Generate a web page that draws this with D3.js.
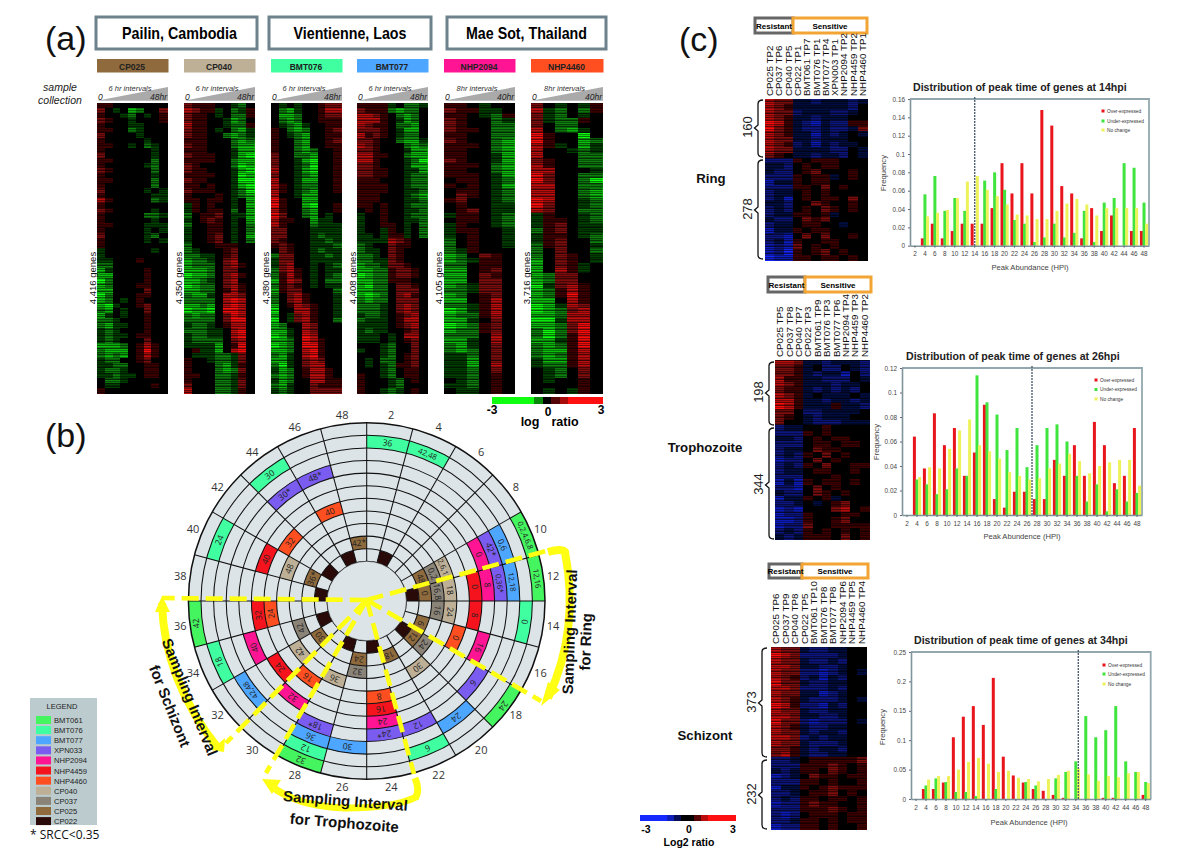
<!DOCTYPE html>
<html><head><meta charset="utf-8">
<script src="https://cdn.jsdelivr.net/npm/d3@7/dist/d3.min.js"></script>
<style>html,body{margin:0;padding:0;background:#fff}svg{display:block}text{font-family:"Liberation Sans",Arial,sans-serif}</style>
</head><body><svg id="c" width="1200" height="849"></svg>
<script>
// ---------- data: panel (a) expression, digits = red level, letters = green level ----------
const sitesA = ["Pailin, Cambodia","Vientienne, Laos","Mae Sot, Thailand"];
const isolatesA = ["CP025","CP040","BMT076","BMT077","NHP2094","NHP4460"];
const isolateColorsA = ["#8f6a3c","#bdb097","#3fffa0","#4da6ff","#ff1493","#ff4e20"];
const intervalsA = ["6 hr intervals","6 hr intervals","6 hr intervals","6 hr intervals","8hr intervals","8hr intervals"];
const endLabelsA = ["48hr","48hr","48hr","48hr","40hr","40hr"];
const geneCountsA = ["4,416 genes","4,350 genes","4,380 genes","4,408 genes","4,105 genes","3,716 genes"];
const heatCP025 = ["110000000","20a0cb002","100ab0a01","2100a0001","1000aa000","1100ba000","20000a000","100000a00","1100a0ba0","1000000a0","2000000a0","1100000b0","100000ab0","2100000b0","1000000a0","1100000b0","1000000b0","200000a0a","1000000aa","3100000ba","100000000","2100000a0","100000bba","1000000a0","110000aaa","100000a0a","200000ab0","100000a0a","100000000","a000000a0","a00000000","aa0001000","bb0000000","ca0000100","cc0000100","db0000100","cb0001100","cc0000200","db0001100","cb0a01000","cda001200","bc0a00200","ca0a00100","bba000100","bcaa00100","aba000100","abaa01100","aba000200","cccb01310","bccc01410","bcbc01310","abb001200","aabb00110","abba00110","aabaa0110","0bba00000","0aa000010","100000000"];
const heatCP040 = ["211100ab0","3211a0ba1","2110a0bb1","21100acb0","31100abb1","2110a0bca","21100bcba","111000bcb","211000bcc","111000acc","211100acd","111100bcc","210000bdc","211000acd","111100adc","211000add","110100acd","211100abd","100010abc","110110a0c","a10100a0c","a10110b0c","b01120aac","a01210a0c","b00110a0b","a00110a0b","a00120a0c","a00120a0b","b00011100","ba0001200","bbaa01200","cbba02300","cbbb02310","cccb02200","dccb02310","ccba02300","dcbb02310","ccbb01310","bcca03320","bbbb03430","ccbc03430","dccd04430","bcbb02430","bbbb02440","abba01330","bbbaa0340","abbaa0340","abbbb0230","aaaac0140","01aac0340","0aaabba20","100abba20","1000bca10","1000bcb20","1100bba10","1000bba20","2000bba20","3000bba10"];
const heatBMT076 = ["0a0a00122","0bca00133","0ccb00122","0bcb00111","0abca0011","10bcb0012","10abc0011","100bc0012","100bc0011","100bcb001","200bbc001","200acd001","200abd001","300acd001","200abc001","300acc001","310abb001","310abc001","300acc000","4100cc000","4100cd001","3100bc001","4200bc0a0","31100caa0","31000baaa","22000aaaa","22000abaa","21000aaba","12100aaab","02100abaa","b2200aaba","a2200aaaa","a2300a0ab","b2310a0aa","b1310a0ab","c1320a0bb","b1210a0aa","c1220000b","b0231000a","b0231000a","c0132100a","d0033100a","c0a23100a","d0a23100b","cb0032000","cca032000","dca043000","ccb043100","dcb044100","ccb034100","bca034100","cca023200","bda023300","acb013310","bcb013310","acb003311","bca002111","aba002222"];
const heatBMT077 = ["1111a0bba","2111bcbb0","33210bcb0","33310acb0","32110bbc0","22210acc0","31210abb0","22100bcca","321000bcb","221000acc","331100bcc","331000abd","221000acc","221100aac","221100abb","111000abb","111100abb","111100aab","111000abc","111000aab","110100abb","010100aab","a00100abb","a00100aab","a00110a0b","a00a10a0b","aa0a11a0b","aaaa32100","ba0021100","baa021000","bba021000","bbaa21000","cbba22100","ccbb12210","dcbb12210","ccbb11100","cdbb02210","ccbb02220","cdcb02310","bcbb02220","bbba02320","bbba02320","abba01230","baaa01330","aaaa01230","abaa00120","aaa0a0330","aaa0a0120","000ab0020","a00ab0020","000ab0120","0a0bb0120","0a0ab1120","000ab0110","100ab0110","1000ab010","1000ab000","100aba010"];
const heatNHP2094 = ["110a00","211aa0","110ab1","2100ba","2100bb","2110bb","1100bb","2100bc","1110bc","1100bc","1100ac","2100ac","1110bc","1100bc","1110ac","0110ab","1010ac","0110ab","0210ab","1200ab","0100aa","0120aa","a110ab","0110ab","a100ab","a1100a","a0100a","b0100a","b0100a","ba1000","cb0210","cba110","bb0110","cc0120","cc0210","cc0220","cba220","bba220","cb0120","cc0130","bba130","dca130","cbb130","cca020","dcb120","cbb120","bbb030","cca030","bca020","bcb020","aab020","aac020","aac030","aab020","aab010","0ab010","aab010","0aa010"];
const heatNHP4460 = ["20a0a1","3ab0b1","2ab0a0","2abb10","20bb00","30bca0","4100d0","4100cb","31a0ca","300aba","3000bb","2100bb","3100bb","33000a","4200bb","4200bd","3300bb","3300bc","3300bc","4300ab","4200ab","3200bb","a100ab","a110ab","a120aa","b120aa","a110ab","a1200b","b1200a","b0200b","b0210a","c0210a","c021a0","c031a0","cb2200","cb2200","da2310","cb1310","cb1410","cc0310","dca320","dcb230","ccb330","dda330","ccb240","bdb240","bdb140","cca140","bcb140","bcc130","bcb130","acc130","abb130","0ab020","0ab020","0a0010","000010","0a0a10"];
const colorBarValues = [-3,-3,-3,-3,-3,-1.6,0,1,2,3,3,3,3];

// ---------- data: panel (b) polar grid ----------
const hours = [2,4,6,8,10,12,14,16,18,20,22,24,26,28,30,32,34,36,38,40,42,44,46,48];
const samples = ["BMT061","BMT076","BMT077","XPN033","NHP2094","NHP4459","NHP4460","CP040","CP037","CP025","CP022"];
const sampleColors = ["#45f560","#3fffa0","#4da6ff","#7a5cf0","#ff1493","#f5141e","#ff4e20","#bdb097","#8a8378","#8f6a3c","#2a0a08"];
const cellsBMT061 = [[10,"0,2,4,6,8"],[12,"12,16"],[18,"24"],[28,"32"],[36,"42"]];
const cellsBMT076 = [[2,"36"],[4,"42,48"],[14,"0"],[22,"6"],[28,"12"],[34,"18"],[40,"24"],[44,"30"]];
const cellsBMT077 = [[10,"0,6"],[12,"12,18"],[20,"24"],[26,"30"],[28,"36"],[32,"42,48"]];
const cellsXPN033 = [[10,"42*"],[12,"0,36*"],[18,"6"],[22,"12"],[24,"24*"],[28,"18*"],[44,"30*"],[46,"48*"]];
const cellsNHP2094 = [[10,"0"],[12,"8"],[16,"16"],[24,"24"],[30,"32"],[34,"40"]];
const cellsNHP4459 = [[12,"0"],[14,"8"],[24,"16"],[32,"24"],[36,"32"],[40,"40"]];
const cellsNHP4460 = [[16,"0"],[24,"8"],[30,"16"],[36,"24"],[42,"32"],[46,"40"]];
const cellsCP040 = [[10,"2,6,12"],[12,"18"],[14,"24"],[20,"30"],[28,"36"],[32,"42"],[40,"48"]];
const cellsCP037 = [[10,"0,2"],[12,"16,8"],[14,"16"],[18,"24"],[26,"32"],[34,"42"]];
const cellsCP025 = [[10,"48"],[12,"0"],[16,"6"],[18,"12"],[22,"18"],[26,"24"],[32,"30"],[40,"36*"],[48,"42*"]];
const cellsCP022 = [[4,""],[12,""],[18,""],[24,""],[28,""],[34,""],[38,""],[42,""],[46,""]];
const sampleCells = [cellsBMT061,cellsBMT076,cellsBMT077,cellsXPN033,cellsNHP2094,cellsNHP4459,cellsNHP4460,cellsCP040,cellsCP037,cellsCP025,cellsCP022];

// ---------- data: panel (c) heat maps, digits = red level, letters = blue level ----------
const columnsRing = ["CP025 TP2","CP037 TP6","CP040 TP5","CP022 TP1","BMT061 TP7","BMT076 TP1","BMT077 TP4","XPN003 TP1","NHP2094 TP2","NHP4459 TP2","NHP4460 TP1"];
const columnsTroph = ["CP025 TP5","CP037 TP8","CP040 TP7","CP022 TP3","BMT061 TP9","BMT076 TP3","BMT077 TP6","NHP2094 TP4","NHP4459 TP3","NHP4460 TP2"];
const columnsSchiz = ["CP025 TP6","CP037 TP9","CP040 TP8","CP022 TP5","BMT061 TP10","BMT076 TP8","BMT077 TP8","NHP2094 TP6","NHP4459 TP5","NHP4460 TP4"];
const heatRing = ["322aabaaaba","321aaaaaab0","322baaabba0","321aabaaa00","431abcabb11","421abbabba2","321aacaba0a","322aabaaa00","321bacabaa0","322aaaabb0a","210aabaab0a","bbb10111000","aab01011000","abb01200010","bbb1011a010","caa10110000","bbb11020100","baa01010000","bac01011020","aab00210010","bab01021010","baa1101a000","abb02120000","baa01100a00","caa10110000","bbc02020010","bac10011000","cbc20101000","cbd10120100","dcc11011010"];
const heatTroph = ["332aabaaab","221a0bb0ab","221abaac0b","311aabbb0a","321aaabaa0","211ababab0","321a0aaa0a","331aabaaba","431aaa1aab","220bbaaaa0","210abaaa00","200abbbaaa","baa0010000","bbb1010000","aab0101100","bbb0110110","baa0211000","bab1020100","cbb0201000","bab1020011","baa0110010","bbb0001000","cac1011010","bbc0201000","abb0210100","caa101a000","bba0a01200","cbc0002301","cbb1000110","ccb1001200","cbb2001111","bab1010101","aba1110201"];
const heatSchiz = ["322abbaa00","432bbbba00","322abbab00","332aabba00","322bbcba0a","321bacab00","422abbaa00","332bbbab00","322aacba00","321abbba0a","431bbcab00","322abbaa00","332aabba00","422bcbbb0a","321abbaa00","322abaab00","332babaa00","322abbba00","221abaab00","231abbaa00","bba0111112","bbb1112101","aba1102101","cba0211011","bbb1101001","caa1012111","bba0112010","bab1101101","cbb1211001","bbb1112101","bcb0111011","bba1101011","cbb1101001"];

// ---------- data: panel (c) peak-time distributions ----------
const overRing  = [0,.008,.024,.008,.016,.024,.024,.024,.041,.09,.057,.09,.057,.148,.131,.065,.057,.008,.041,.016,.033,0,.016,.016];
const underRing = [0,.056,.076,.038,.052,.038,0,.071,.08,.061,.028,.024,.004,.009,.024,.009,.014,.038,.004,.047,.052,.09,.085,.047];
const flatRing  = [0,.032,.036,.039,.052,.07,.076,.061,.054,.045,.034,.033,.029,.029,.038,.046,.051,.045,.033,.041,.041,.041,.041,.024];
const overTroph  = [0,.064,.038,.083,.057,.071,.032,.051,.09,.013,.006,.019,.019,.013,.013,.045,.032,.057,.032,.076,.057,.026,.032,.071];
const underTroph = [0,.029,.025,.017,.021,.038,.032,.114,.092,.082,.053,.071,.039,.057,.071,.074,.06,.032,.011,.025,.003,.021,.011,.018];
const flatTroph  = [0,.031,.039,.038,.054,.069,.078,.057,.052,.046,.035,.032,.029,.03,.038,.042,.05,.044,.034,.04,.043,.045,.045,.024];
const overSchiz  = [0,.017,.017,.028,.105,.14,.158,.126,.206,.072,.04,.028,.017,.014,.007,.002,0,0,0,.002,.002,0,0,.007];
const underSchiz = [0,.023,.035,.029,.012,.012,.005,0,.017,0,0,.029,.023,0,.035,.046,.064,.141,.105,.117,.158,.064,.046,.029];
const flatSchiz  = [0,.033,.039,.039,.05,.063,.07,.06,.046,.048,.036,.034,.03,.034,.041,.048,.052,.042,.031,.039,.037,.044,.046,.027];
const ticksRing = [0,.02,.04,.06,.08,.1,.12,.14,.16];
const ticksTroph = [0,.02,.04,.06,.08,.1,.12];
const ticksSchiz = [0,.05,.1,.15,.2,.25];
const seriesNames = ["Over-expressed","Under-expressed","No change"];
const seriesColors = ["#e8161c","#3fe43c","#eef25a"];
const legendEntries = ["BMT061","BMT076","BMT077","XPN033","NHP2094","NHP4459","NHP4460","CP040","CP037","CP025","CP022"];
// streak shading of the heat maps (style only: darkness of successive 1px lines)
const streakShades = [0,.4,.1,.55,0,.3,.65,.05,.35,0,.5,.15,.6,.2,0,.45,.1,.3,.7];

// ---------- helpers ----------
const svg = d3.select("#c");
const defs = svg.append("defs");
const blur = defs.append("filter").attr("id","soft").attr("x","-2%").attr("width","104%");
blur.append("feGaussianBlur").attr("stdDeviation","0.7 0");
const streak = defs.append("pattern").attr("id","streak").attr("patternUnits","userSpaceOnUse").attr("width",4).attr("height",streakShades.length);
streakShades.forEach((o,i)=>streak.append("rect").attr("x",0).attr("y",i).attr("width",4).attr("height",1).attr("fill","#000").attr("opacity",o));
const decode = ch => /[0-9]/.test(ch) ? +ch*0.75 : -(ch.charCodeAt(0)-96)*0.75;
const greenRed = d3.scaleLinear().domain([-3,0,3]).range(["#10ff10","#000000","#ff1010"]).clamp(true);
const blueRed = d3.scaleLinear().domain([-3,0,3]).range(["#1428ff","#000000","#ff1010"]).clamp(true);
function txt(g,x,y,s,o={}){
  const t=g.append("text").attr("x",x).attr("y",y).text(s)
    .attr("text-anchor",o.a||"middle").attr("font-size",o.s||10).attr("fill",o.f||"#000");
  if(o.b)t.attr("font-weight","bold"); if(o.i)t.attr("font-style","italic");
  if(o.ff)t.style("font-family",o.ff);
  if(o.r!==undefined)t.attr("transform",`rotate(${o.r} ${x} ${y})`);
  return t;
}
function heat(rows,x0,x1,y0,y1,color){
  const nc=rows[0].length;
  const x=d3.scaleBand().domain(d3.range(nc)).range([x0,x1]);
  const y=d3.scaleBand().domain(d3.range(rows.length)).range([y0,y1]);
  const g=svg.append("g").attr("shape-rendering","crispEdges").attr("filter","url(#soft)");
  rows.forEach((r,i)=>{
    g.selectAll(null).data(r.split("")).enter().append("rect")
      .attr("x",(d,j)=>x(j)).attr("y",y(i)).attr("width",x.bandwidth()+.5).attr("height",y.bandwidth()+.5)
      .attr("fill",d=>color(decode(d)));
  });
  svg.append("rect").attr("x",x0).attr("y",y0).attr("width",x1-x0+.5).attr("height",y1-y0).attr("fill","url(#streak)");
}

// ---------- panel (a) ----------
txt(svg,45,50,"(a)",{a:"start",s:34,f:"#111"});
txt(svg,45,447,"(b)",{a:"start",s:34,f:"#111"});
txt(svg,679,51,"(c)",{a:"start",s:34,f:"#111"});
const siteBox=[[96,257],[269,431],[447,606]];
const siteTextW=[115,113,121];
sitesA.forEach((s,i)=>{
  svg.append("rect").attr("x",siteBox[i][0]).attr("y",17).attr("width",siteBox[i][1]-siteBox[i][0]).attr("height",32)
    .attr("fill","#fff").attr("stroke","#6d828c").attr("stroke-width",3);
  txt(svg,(siteBox[i][0]+siteBox[i][1])/2+(i==0?3:0),39,s,{b:1,s:16.5})
    .attr("textLength",siteTextW[i]).attr("lengthAdjust","spacingAndGlyphs");
});
const panelX=[[97,167],[184,254],[271,341],[357,427],[444,514],[531,602]];
const heatsA=[heatCP025,heatCP040,heatBMT076,heatBMT077,heatNHP2094,heatNHP4460];
const geneX=[93,179,266,353,439,527];
isolatesA.forEach((s,i)=>{
  const [a,b]=panelX[i];
  svg.append("rect").attr("x",a).attr("y",59).attr("width",b-a+1.5).attr("height",13.5).attr("fill",isolateColorsA[i]);
  txt(svg,(a+b)/2,69.5,s,{b:1,s:8.5,f:"#222"});
  svg.append("path").attr("d",`M${a},100.7L${b+1},87L${b+1},100.7Z`).attr("fill","#aaaaaa");
  txt(svg,(a+b)/2-2,91,intervalsA[i],{i:1,s:7.5,f:"#333"});
  txt(svg,a+1,100,"0",{a:"start",i:1,s:8.5,f:"#222"});
  txt(svg,b,100,endLabelsA[i],{a:"end",i:1,s:8.5,f:"#222"});
  heat(heatsA[i],a,b,103,393,greenRed);
  txt(svg,geneX[i]+3,278,geneCountsA[i],{s:9.5,r:-90,f:"#111"});
});
txt(svg,60,91,"sample",{i:1,s:10.5,f:"#222"});
txt(svg,60,104,"collection",{i:1,s:10.5,f:"#222"});
// colour bar
{
  const x=d3.scaleBand().domain(d3.range(colorBarValues.length)).range([492,602]);
  svg.append("g").attr("shape-rendering","crispEdges").selectAll("rect").data(colorBarValues).enter().append("rect")
    .attr("x",(d,i)=>x(i)).attr("y",397).attr("width",x.bandwidth()+.5).attr("height",7).attr("fill",d=>greenRed(d));
  txt(svg,492,414,"-3",{b:1,s:12});txt(svg,548,416,"0",{b:1,s:12});txt(svg,601,414,"3",{b:1,s:12});
  txt(svg,530,426,"log",{b:1,s:12.5});txt(svg,565,426,"ratio",{b:1,s:12.5});
}

// ---------- panel (b) polar ----------
{
  const cx=366.7, cy=601, R=178.3, r0=39.7;
  const g=svg.append("g").attr("transform",`translate(${cx},${cy})`);
  const ang=d3.scaleBand().domain(hours).range([0,2*Math.PI]);
  const rad=d3.scaleBand().domain(samples).range([R,r0]);
  const arc=d3.arc();
  g.append("circle").attr("r",R).attr("fill","#dde4e7");
  sampleCells.forEach((cells,i)=>{
    const s=samples[i], inner=rad(s), outer=rad(s)+rad.bandwidth();
    cells.forEach(([h,label])=>{
      const a0=ang(h),a1=a0+ang.bandwidth();
      g.append("path").attr("d",arc({innerRadius:inner,outerRadius:outer,startAngle:a0,endAngle:a1})).attr("fill",sampleColors[i]);
    });
  });
  samples.forEach(s=>{
    g.append("circle").attr("r",rad(s)).attr("fill","none").attr("stroke","#111").attr("stroke-width",1.05);
  });
  g.append("circle").attr("r",R).attr("fill","none").attr("stroke","#111").attr("stroke-width",1.5);
  hours.forEach(h=>{
    const a=ang(h);
    g.append("line").attr("x1",r0*Math.sin(a)).attr("y1",-r0*Math.cos(a)).attr("x2",R*Math.sin(a)).attr("y2",-R*Math.cos(a))
      .attr("stroke","#111").attr("stroke-width",1.05);
    const m=a+ang.bandwidth()/2;
    txt(g,188*Math.sin(m),-188*Math.cos(m)+4,h,{s:11,f:"#333",ff:"'Open Sans'"});
  });
  g.append("circle").attr("r",r0).attr("fill","#dde4e7").attr("stroke","#333").attr("stroke-width",.6);
  sampleCells.forEach((cells,i)=>{
    const s=samples[i], mid=rad(s)+rad.bandwidth()/2;
    cells.forEach(([h,label])=>{
      if(!label)return;
      const m=ang(h)+ang.bandwidth()/2, deg=m*180/Math.PI;
      g.append("text").attr("transform",`rotate(${deg}) translate(0,${-mid+3})`)
        .attr("text-anchor","middle").attr("font-size",label.length>4?7.6:8.6).attr("fill","#222")
        .style("font-family","'Open Sans'").text(label);
    });
  });
  const lg=svg.append("g");
  lg.append("rect").attr("x",30).attr("y",698).attr("width",67).attr("height",127).attr("fill","#bccbce");
  txt(lg,62,709,"LEGEND",{s:7.5,f:"#222"});
  const ly=d3.scaleBand().domain(legendEntries).range([716,826]).paddingInner(.12);
  legendEntries.forEach((d,i)=>{
    lg.append("rect").attr("x",36).attr("y",ly(d)).attr("width",15).attr("height",8).attr("fill",sampleColors[i]);
    txt(lg,54,ly(d)+7,d,{a:"start",s:7.6,f:"#222"});
  });
  txt(svg,30,839,"* SRCC<0.35",{a:"start",s:12,f:"#111",ff:"'Open Sans'"});
  const y=svg.append("g");
  const ends=[[546,551],[541,701],[162,598],[226,743],[266,773],[414,774]];
  ends.forEach(e=>y.append("line").attr("x1",cx).attr("y1",cy-1).attr("x2",e[0]).attr("y2",e[1])
    .attr("stroke","#ffff14").attr("stroke-width",4.6).attr("stroke-dasharray","17 7"));
  const Y="#ffff14";
  const br=(d,w=8)=>y.append("path").attr("d",d).attr("fill","none").attr("stroke",Y).attr("stroke-width",w);
  const tri=d=>y.append("path").attr("d",d).attr("fill",Y);
  br("M548,552Q562,548 565,552Q580,630 548,698");tri("M541,706L548,682L560,690Z");
  br("M162,603Q164,680 218,748");tri("M155,612L162,596L170,612Z");tri("M211,750L225,738L224,752Z");
  br("M270,785Q295,806 345,808Q395,808 416,797Q420,790 415,778",7);tri("M262,779L281,780L272,794Z");
  const bold={b:1,s:15,f:"#111"};
  txt(svg,575,632,"Sampling Interval",{...bold,r:-88});
  txt(svg,591,642,"for Ring",{...bold,r:-88});
  txt(svg,185,699,"Sampling Interval",{...bold,r:68});
  txt(svg,165,708,"for Schizont",{...bold,r:68});
  txt(svg,345,806,"Sampling Interval",{...bold,r:4.5});
  txt(svg,344,828,"for Trophozoite",{...bold,r:4.5});
}

// ---------- panel (c) heat maps ----------
const heatPanels=[
 {rows:heatRing,cols:columnsRing,x:[765,867],y:[99,260],lb:96,box:[755,793,867,18,33],brk:758,n:[["160",100,157,128],["278",160,259,210]],stage:"Ring",sx:711,sy:183},
 {rows:heatTroph,cols:columnsTroph,x:[775,869],y:[360,539],lb:357,box:[768,805,871,277,292],brk:769,n:[["198",362,425,393],["344",428,539,485]],stage:"Trophozoite",sx:705,sy:452},
 {rows:heatSchiz,cols:columnsSchiz,x:[771,866],y:[647,829],lb:644,box:[769,802,868,564,578],brk:762,n:[["373",648,757,703],["232",760,829,795]],stage:"Schizont",sx:705,sy:740}
];
heatPanels.forEach(p=>{
  heat(p.rows,p.x[0],p.x[1],p.y[0],p.y[1],blueRed);
  const [a,m,b,t,u]=p.box;
  svg.append("rect").attr("x",a).attr("y",t).attr("width",m-a).attr("height",u-t).attr("fill","#fff").attr("stroke","#666").attr("stroke-width",3);
  svg.append("rect").attr("x",m).attr("y",t).attr("width",b-m).attr("height",u-t).attr("fill","#fff").attr("stroke","#f2a535").attr("stroke-width",3);
  txt(svg,(a+m)/2,u-4.5,"Resistant",{b:1,s:8});
  txt(svg,(m+b)/2,u-4.5,"Sensitive",{b:1,s:8});
  const cx=d3.scaleBand().domain(p.cols).range([p.x[0],p.x[1]]);
  p.cols.forEach(c=>{
    const x=cx(c)+cx.bandwidth()/2+3.5;
    txt(svg,x,p.lb,c,{a:"start",s:9.8,r:-90,f:"#111"});
  });
  p.n.forEach(([n,y0,y1,ym])=>{
    const x=p.brk;
    svg.append("path").attr("d",`M${x+5},${y0}Q${x},${y0} ${x},${y0+4}L${x},${ym-3}L${x-3.5},${ym}L${x},${ym+3}L${x},${y1-4}Q${x},${y1} ${x+5},${y1}`)
      .attr("fill","none").attr("stroke","#111").attr("stroke-width",1.3);
    txt(svg,x-11,ym-1,n,{s:13,r:-90,f:"#222"}).attr("dy","0.35em");
  });
  txt(svg,p.sx,p.sy,p.stage,{b:1,s:13.2,f:"#111"});
});
{
  const vals=[-3,-3,-3,-3,-2.2,-1,0,0,1,2.2,3,3,3,3];
  const x=d3.scaleBand().domain(d3.range(vals.length)).range([640,735]);
  svg.append("g").attr("shape-rendering","crispEdges").selectAll("rect").data(vals).enter().append("rect")
    .attr("x",(d,i)=>x(i)).attr("y",815).attr("width",x.bandwidth()+.5).attr("height",6).attr("fill",d=>blueRed(d));
  txt(svg,646,833,"-3",{b:1,s:10.5});txt(svg,689,833,"0",{b:1,s:10.5});txt(svg,733,833,"3",{b:1,s:10.5});
  txt(svg,689,846,"Log2 ratio",{b:1,s:10.5});
}

// ---------- panel (c) bar charts ----------
const chartDefs=[
 {title:"Distribution of peak time of genes at 14hpi",tx:913,ty:91,over:overRing,under:underRing,flat:flatRing,ticks:ticksRing,x:[910,1149],y:[99,245.7],mark:14,xl:"Peak Abundance (HPI)",xlx:1030,xly:270,fx:886,fy:173,lx:1103,ly:[111,121,130]},
 {title:"Distribution of peak time of genes at 26hpi",tx:906,ty:360,over:overTroph,under:underTroph,flat:flatTroph,ticks:ticksTroph,x:[902,1142],y:[368,515],mark:27,xl:"Peak Abundence (HPI)",xlx:1022,xly:539,fx:879,fy:442,lx:1096,ly:[380,389.5,399]},
 {title:"Distribution of peak time of genes at 34hpi",tx:914,ty:644,over:overSchiz,under:underSchiz,flat:flatSchiz,ticks:ticksSchiz,x:[911,1150.7],y:[652,799],mark:34.5,xl:"Peak Abundence (HPI)",xlx:1029,xly:825,fx:885,fy:727,lx:1104,ly:[665,674,684]}
];
chartDefs.forEach(c=>{
  const x=d3.scaleBand().domain(hours).range(c.x);
  const y=d3.scaleLinear().domain([0,c.ticks[c.ticks.length-1]]).range([c.y[1],c.y[0]]);
  const g=svg.append("g");
  txt(g,c.tx,c.ty,c.title,{a:"start",b:1,s:10.6,f:"#222"});
  g.append("path").attr("d",`M${c.x[0]},${c.y[0]}H${c.x[1]}V${c.y[1]}`).attr("fill","none").attr("stroke","#93a8ae").attr("stroke-width",1.8);
  [c.over,c.under,c.flat].forEach((vals,si)=>{
    g.selectAll(null).data(vals).enter().append("rect")
      .attr("x",(d,i)=>x(hours[i])+x.bandwidth()/2-1.5+(si-1)*2.6).attr("y",d=>y(d))
      .attr("width",3).attr("height",d=>y(0)-y(d)).attr("fill",seriesColors[si]);
  });
  const ax=g.append("g").attr("transform",`translate(0,${c.y[1]})`).call(d3.axisBottom(x).tickSize(2).tickSizeOuter(0));
  const ay=g.append("g").attr("transform",`translate(${c.x[0]},0)`).call(d3.axisLeft(y).tickValues(c.ticks).tickFormat(d=>d===0?"0":String(d)).tickSize(2).tickSizeOuter(0));
  [ax,ay].forEach(a=>{a.selectAll("text").attr("font-size",6.4).attr("fill","#444");a.selectAll("line").attr("stroke","#667");a.select(".domain").attr("stroke","#7f959c").attr("stroke-width",1.6);});
  ax.selectAll("text").attr("dy","0.9em");
  const hx=d3.scaleLinear().domain([hours[0],hours[hours.length-1]]).range([x(hours[0])+x.bandwidth()/2,x(hours[hours.length-1])+x.bandwidth()/2]);
  g.append("line").attr("x1",hx(c.mark)).attr("x2",hx(c.mark)).attr("y1",c.y[0]-2).attr("y2",c.y[1])
    .attr("stroke","#44586a").attr("stroke-width",1.3).attr("stroke-dasharray","2 1");
  txt(g,c.xlx,c.xly,c.xl,{s:7.6,f:"#444"});
  txt(g,c.fx,c.fy,"Frequency",{s:7.6,r:-90,f:"#444"});
  seriesNames.forEach((n,i)=>{
    g.append("rect").attr("x",c.lx-1.5).attr("y",c.ly[i]-1.5).attr("width",3).attr("height",3).attr("fill",seriesColors[i]);
    txt(g,c.lx+4,c.ly[i]+1.7,n,{a:"start",s:4.8,f:"#333"});
  });
});
</script></body></html>
